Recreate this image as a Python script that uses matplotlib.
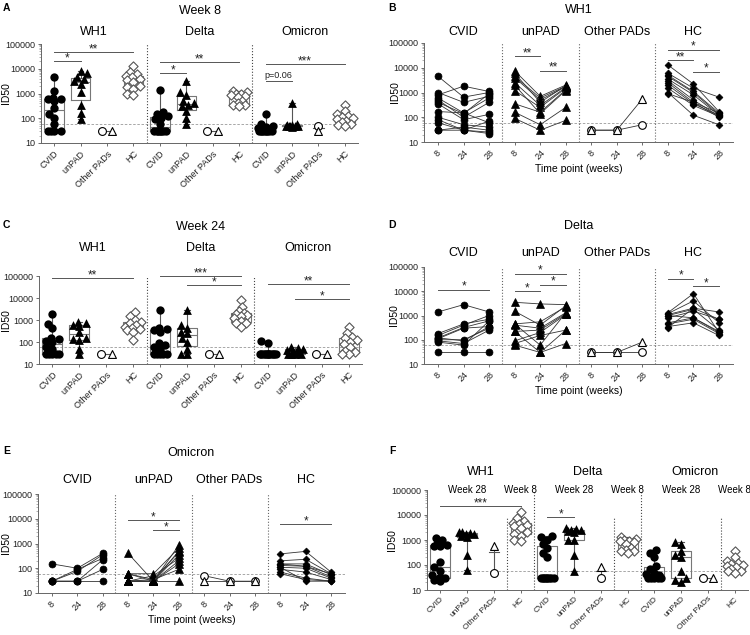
import numpy as np
import matplotlib.pyplot as plt
from matplotlib.ticker import FixedLocator, LogLocator, NullFormatter
from matplotlib.transforms import blended_transform_factory

plt.rcParams['font.family'] = ['Liberation Sans', 'DejaVu Sans']

W, H = 750, 635

groups = ['CVID', 'unPAD', 'Other PADs', 'HC']
variants = ['WH1', 'Delta', 'Omicron']
weeks = ['8', '24', '28']
yticks = [10, 100, 1000, 10000, 100000]
ytick_labels = ['10', '100', '1000', '10000', '100000']
lod = 60

# ---- week 8 cross-sectional (panel A); Other PADs = [circle, triangle]
w8_wh1_cvid = [4500, 1300, 650, 600, 600, 500, 270, 150, 100, 60, 30, 30, 30, 30]
w8_wh1_unpad = [7800, 6500, 4500, 4000, 3200, 2500, 1200, 350, 170, 90]
w8_wh1_other = [30, 30]
w8_wh1_hc = [13000, 7500, 6000, 5000, 4500, 4000, 3500, 3000, 2000, 1800, 1500, 1000, 900]
w8_delta_cvid = [1400, 180, 150, 120, 100, 90, 60, 30, 30, 30, 30, 30, 30, 30]
w8_delta_unpad = [3200, 1200, 900, 500, 400, 350, 300, 200, 100, 60]
w8_delta_other = [30, 30]
w8_delta_hc = [1300, 1100, 1000, 950, 900, 800, 700, 500, 400, 350, 350, 300]
w8_omi_cvid = [150, 60, 50, 45, 40, 35, 30, 30, 30, 30, 30, 30, 30, 30]
w8_omi_unpad = [400, 60, 55, 55, 50, 50, 50, 50, 50, 45]
w8_omi_other = [50, 30]
w8_omi_hc = [350, 200, 150, 120, 110, 100, 90, 80, 70, 60, 55, 50]

# ---- week 24 (panel C)
w24_wh1_cvid = [1800, 650, 450, 150, 130, 110, 100, 60, 50, 30, 30, 30, 30, 30]
w24_wh1_unpad = [800, 700, 600, 550, 300, 150, 130, 120, 50, 30]
w24_wh1_other = [30, 30]
w24_wh1_hc = [2200, 1500, 1000, 800, 700, 600, 500, 450, 400, 350, 300, 120]
w24_delta_cvid = [2800, 450, 400, 350, 300, 90, 70, 60, 50, 30, 30, 30, 30, 30]
w24_delta_unpad = [3000, 600, 450, 300, 250, 150, 100, 50, 30, 30]
w24_delta_other = [30, 30]
w24_delta_hc = [8000, 4000, 2500, 2000, 1800, 1700, 1500, 1200, 900, 700, 700, 500]
w24_omi_cvid = [110, 90, 30, 30, 30, 30, 30, 30, 30, 30, 30, 30, 30, 30]
w24_omi_unpad = [60, 55, 50, 45, 40, 35, 30, 30, 30, 30]
w24_omi_other = [30, 30]
w24_omi_hc = [500, 250, 170, 150, 120, 100, 80, 60, 40, 35, 30, 30]

# ---- week 28 (panel F, HC taken from week 8)
w28_wh1_cvid = [1200, 1000, 700, 650, 600, 550, 130, 80, 60, 40, 30, 30, 30, 25, 22]
w28_wh1_unpad = [2100, 2000, 1900, 1800, 1700, 1500, 1300, 250, 65]
w28_wh1_other = [50, 600]
w28_delta_cvid = [1500, 1300, 1000, 700, 500, 300, 200, 30, 30, 30, 30, 30, 30, 30, 30]
w28_delta_unpad = [3000, 2800, 2500, 2400, 2200, 2000, 1000, 1000, 250, 60]
w28_delta_other = [30, 80]
w28_omi_cvid = [400, 300, 200, 90, 70, 50, 45, 40, 35, 30, 30, 30, 30, 30]
w28_omi_unpad = [800, 700, 350, 250, 200, 60, 30, 25, 20]
w28_omi_other = [30, 30]

# ---- longitudinal (weeks 8, 24, 28), one row per patient
b_cvid = [[4500, 650, 1000], [1000, 400, 700], [800, 1800, 1100], [600, 150, 600],
          [500, 100, 400], [400, 140, 900], [350, 80, 130], [170, 150, 60],
          [100, 50, 40], [80, 30, 70], [60, 30, 25], [30, 30, 22], [30, 40, 30]]
b_unpad = [[7500, 700, 2000], [4500, 600, 1800], [4000, 500, 1700], [2500, 300, 1600],
           [1200, 250, 1500], [350, 160, 1300], [160, 50, 250], [90, 30, 75],
           [6000, 400, 1900], [2000, 140, 1200]]
b_other = [[30, 30, 50], [30, 30, 550]]
b_hc = [[13000, 2200, 170], [6000, 1500, 650], [5000, 1100, 150], [4500, 1000, 130],
        [3500, 800, 120], [3000, 500, 110], [2500, 400, 100], [2000, 350, 120],
        [1500, 300, 110], [1000, 120, 50], [900, 400, 150]]

d_cvid = [[1400, 2800, 1400], [180, 450, 700], [150, 400, 1000], [120, 320, 600],
          [110, 300, 350], [100, 100, 300], [90, 70, 250], [80, 60, 600],
          [30, 30, 30], [120, 90, 350]]
d_unpad = [[3500, 3000, 2800], [1500, 400, 2500], [450, 550, 2300], [400, 300, 1300],
           [220, 250, 1200], [90, 200, 1100], [70, 150, 250], [60, 30, 70],
           [450, 60, 1300], [220, 30, 250]]
d_other = [[30, 30, 30], [30, 30, 80]]
d_hc = [[1300, 8000, 200], [1200, 4000, 500], [1100, 2000, 1400], [1000, 1800, 250],
        [800, 1500, 700], [500, 800, 220], [450, 700, 180], [350, 500, 150],
        [320, 2000, 700], [1000, 800, 200]]

e_cvid = [[150, 100, 400], [30, 90, 250], [30, 75, 350], [30, 30, 220],
          [30, 30, 90], [30, 30, 30]]
e_unpad = [[400, 30, 850], [60, 60, 650], [60, 35, 450], [30, 30, 350], [30, 50, 250],
           [30, 30, 200], [30, 30, 150], [30, 35, 90], [30, 30, 30], [60, 30, 500]]
e_other = [[50, 30, 30], [30, 30, 30]]
e_hc = [[380, 480, 70], [200, 230, 60], [150, 150, 55], [130, 120, 45], [110, 100, 40],
        [90, 70, 35], [70, 40, 30], [60, 35, 30], [110, 30, 30], [150, 120, 60]]

# ---- significance bars: (from, to, height, label)
a_sig = [(0, 1, 20000, '*'), (0, 3, 46000, '**'), (4, 5, 6700, '*'),
         (4, 7, 18000, '**'), (8, 9, 3100, 'p=0.06'), (8, 11, 15500, '***')]
c_sig = [(0, 3, 80000, '**'), (4, 7, 100000, '***'), (5, 7, 38000, '*'),
         (8, 11, 42000, '**'), (9, 11, 9100, '*')]
f_sig = [(0, 3, 22000, '***'), (4, 5, 8300, '*')]
b_sig = [(3, 4, 29000, '**'), (4, 5, 7700, '**'), (9, 11, 54000, '*'),
         (9, 10, 20000, '**'), (10, 11, 7000, '*')]
d_sig = [(0, 2, 11600, '*'), (3, 5, 53000, '*'), (3, 4, 10500, '*'),
         (4, 5, 18800, '*'), (9, 10, 33000, '*'), (10, 11, 16000, '*')]
e_sig = [(3, 5, 8800, '*'), (4, 5, 3500, '*'), (9, 11, 5900, '*')]


def fy(y):
    return 1 - y / H


def add_axes(fig, l, t, r, b, ylab_x):
    ax = fig.add_axes([l / W, 1 - b / H, (r - l) / W, (b - t) / H])
    setup_log(ax)
    ax.yaxis.set_label_coords(-(l - ylab_x) / (r - l), 0.5)
    return ax


def setup_log(ax):
    ax.set_yscale('log')
    ax.set_ylim(10, 100000)
    ax.yaxis.set_major_locator(FixedLocator(yticks))
    ax.set_yticklabels(ytick_labels)
    ax.yaxis.set_minor_locator(LogLocator(subs=np.arange(2, 10)))
    ax.yaxis.set_minor_formatter(NullFormatter())
    ax.tick_params(axis='y', which='major', labelsize=6.5, length=2.5, width=0.6,
                   colors='#555', labelcolor='#222', pad=1.5)
    ax.tick_params(axis='y', which='minor', length=1.2, width=0.4, colors='#777')
    ax.tick_params(axis='x', length=2.5, width=0.6, colors='#555',
                   labelcolor='#222', labelsize=6.5, pad=2)
    for s in ['top', 'right']:
        ax.spines[s].set_visible(False)
    for s in ['left', 'bottom']:
        ax.spines[s].set_color('#666')
        ax.spines[s].set_linewidth(0.7)
    ax.axhline(lod, color='#999', ls=(0, (3, 2)), lw=0.6, zorder=1)
    ax.set_ylabel('ID50', fontsize=7.5)


def add_sig(ax, sigs, color='#555'):
    for x1, x2, y, txt in sigs:
        ax.plot([x1, x2], [y, y], color=color, lw=0.7, clip_on=False, zorder=4)
        if txt.startswith('p'):
            ax.text((x1 + x2) / 2, y * 1.12, txt, ha='center', va='bottom',
                    fontsize=6.5, color='#222')
        else:
            ax.text((x1 + x2) / 2, y * 1.3, txt, ha='center', va='center',
                    fontsize=8.5, color='#222')


def swarm(vals, min_d=0.22, step=0.06, max_off=0.3):
    ly = np.log10(vals)
    offs = np.zeros(len(vals))
    cands = sorted(np.arange(-max_off, max_off + 1e-9, step), key=abs)
    placed = []
    for i in np.argsort(ly):
        best = None
        for c in cands:
            if all(np.hypot(c - offs[j], ly[i] - ly[j]) >= min_d for j in placed):
                best = c
                break
        if best is None:
            best = max(cands, key=lambda c: min(np.hypot(c - offs[j], ly[i] - ly[j])
                                                for j in placed))
        offs[i] = best
        placed.append(i)
    return offs


def draw_group(ax, x, vals, gi):
    vals = np.asarray(vals, float)
    if gi == 2:
        lo, hi = vals.min(), vals.max()
        med = np.median(vals)
        if hi > lo:
            ax.plot([x, x], [lo, hi], color='#555', lw=0.8, zorder=2)
            offs = [0, 0]
        else:
            offs = [-0.2, 0.2]
        ax.plot([x - 0.2, x + 0.2], [med, med], color='#555', lw=0.8, zorder=2)
        ax.scatter(x + offs[0], vals[0], marker='o', s=32, facecolor='white',
                   edgecolor='black', lw=0.8, zorder=3)
        ax.scatter(x + offs[1], vals[1], marker='^', s=32, facecolor='white',
                   edgecolor='black', lw=0.8, zorder=3)
        return
    ax.boxplot(vals, positions=[x], widths=0.74, whis=(0, 100), showfliers=False,
               manage_ticks=False, capwidths=0.2,
               boxprops=dict(color='#777', lw=0.8),
               whiskerprops=dict(color='#555', lw=0.8),
               capprops=dict(color='#555', lw=0.8),
               medianprops=dict(color='#777', lw=0.8))
    offs = swarm(vals)
    if gi == 0:
        ax.scatter(x + offs, vals, marker='o', s=36, c='black', zorder=3, lw=0)
    elif gi == 1:
        ax.scatter(x + offs, vals, marker='^', s=40, c='black', zorder=3, lw=0)
    else:
        ax.scatter(x + offs, vals, marker='D', s=22, facecolor='white',
                   edgecolor='#555', lw=0.8, zorder=3)


def box_panel(fig, ax, data, sigs, title, y_title, y_head):
    for vi in range(3):
        for gi in range(4):
            draw_group(ax, vi * 4 + gi, data[vi][gi], gi)
    ax.set_xlim(-0.5, 11.5)
    ax.set_xticks(range(12))
    ax.set_xticklabels(groups * 3, rotation=45, ha='right', rotation_mode='anchor')
    for xd in [3.5, 7.5]:
        ax.axvline(xd, color='#444', ls=':', lw=0.8, zorder=1)
    add_sig(ax, sigs)
    tr = blended_transform_factory(ax.transData, fig.transFigure)
    ax.text(5.5, fy(y_title), title, transform=tr, ha='center', va='center', fontsize=9)
    for vi, v in enumerate(variants):
        ax.text(vi * 4 + 1.5, fy(y_head), v, transform=tr, ha='center',
                va='center', fontsize=9)


def line_panel(fig, ax, series, sigs, title, y_title, y_head):
    styles = [dict(marker='o', ms=5, mfc='black', mec='black'),
              dict(marker='^', ms=5.5, mfc='black', mec='black'),
              None,
              dict(marker='D', ms=3.5, mfc='black', mec='black')]
    for gi, rows in enumerate(series):
        xs = [gi * 3, gi * 3 + 1, gi * 3 + 2]
        for ri, row in enumerate(rows):
            if gi == 2:
                st = dict(marker='o' if ri == 0 else '^', ms=5.5, mfc='white',
                          mec='black', mew=0.8)
            else:
                st = dict(styles[gi], mew=0.5)
            ax.plot(xs, row, color='#333', lw=0.6, zorder=3, **st)
    ax.set_xlim(-0.55, 11.55)
    ax.set_xticks(range(12))
    ax.set_xticklabels(weeks * 4, rotation=45, ha='center')
    for xd in [2.5, 5.5, 8.5]:
        ax.axvline(xd, color='#666', ls=':', lw=0.8, zorder=1)
    ax.set_xlabel('Time point (weeks)', fontsize=7.5, labelpad=2)
    add_sig(ax, sigs)
    tr = blended_transform_factory(ax.transData, fig.transFigure)
    ax.text(5.5, fy(y_title), title, transform=tr, ha='center', va='center', fontsize=9)
    for gi, g in enumerate(groups):
        ax.text(gi * 3 + 1, fy(y_head), g, transform=tr, ha='center',
                va='center', fontsize=9)


fig = plt.figure(figsize=(7.5, 6.35), dpi=100)

# A
axA = add_axes(fig, 41, 44, 358, 143, 11)
dataA = [[w8_wh1_cvid, w8_wh1_unpad, w8_wh1_other, w8_wh1_hc],
         [w8_delta_cvid, w8_delta_unpad, w8_delta_other, w8_delta_hc],
         [w8_omi_cvid, w8_omi_unpad, w8_omi_other, w8_omi_hc]]
box_panel(fig, axA, dataA, a_sig, 'Week 8', 11, 32)

# C
axC = add_axes(fig, 39, 276, 362, 364, 11)
dataC = [[w24_wh1_cvid, w24_wh1_unpad, w24_wh1_other, w24_wh1_hc],
         [w24_delta_cvid, w24_delta_unpad, w24_delta_other, w24_delta_hc],
         [w24_omi_cvid, w24_omi_unpad, w24_omi_other, w24_omi_hc]]
box_panel(fig, axC, dataC, c_sig, 'Week 24', 227, 248)

# F
axF = add_axes(fig, 427, 490, 748, 590, 397)
dataF = [[w28_wh1_cvid, w28_wh1_unpad, w28_wh1_other, w8_wh1_hc],
         [w28_delta_cvid, w28_delta_unpad, w28_delta_other, w8_delta_hc],
         [w28_omi_cvid, w28_omi_unpad, w28_omi_other, w8_omi_hc]]
for vi in range(3):
    for gi in range(4):
        draw_group(axF, vi * 4 + gi, dataF[vi][gi], gi)
axF.set_xlim(-0.5, 11.5)
axF.set_xticks(range(12))
axF.set_xticklabels(groups * 3, rotation=45, ha='right', rotation_mode='anchor')
axF.tick_params(axis='x', labelsize=6, pad=1.5)
for xd in [3.5, 7.5]:
    axF.axvline(xd, color='#444', ls=':', lw=0.8, zorder=1)
for xd in [2.5, 6.5, 10.5]:
    axF.axvline(xd, ymax=0.73, color='#444', ls=':', lw=0.8, zorder=1)
add_sig(axF, f_sig)
trF = blended_transform_factory(axF.transData, fig.transFigure)
for vi, v in enumerate(variants):
    axF.text(vi * 4 + 1.5, fy(472), v, transform=trF, ha='center', va='center', fontsize=9)
    axF.text(vi * 4 + 1, fy(490), 'Week 28', transform=trF, ha='center', va='center',
             fontsize=7)
    axF.text(vi * 4 + 3, fy(490), 'Week 8', transform=trF, ha='center', va='center',
             fontsize=7)

# B, D, E
axB = add_axes(fig, 424, 43, 733, 142, 400)
line_panel(fig, axB, [b_cvid, b_unpad, b_other, b_hc], b_sig, 'WH1', 10, 32)
axD = add_axes(fig, 424, 267, 733, 364, 399)
line_panel(fig, axD, [d_cvid, d_unpad, d_other, d_hc], d_sig, 'Delta', 226, 253)
axE = add_axes(fig, 38, 494, 345, 593, 11)
line_panel(fig, axE, [e_cvid, e_unpad, e_other, e_hc], e_sig, 'Omicron', 453, 480)

for letter, x, y in [('A', 3, 3), ('B', 388, 3), ('C', 3, 220), ('D', 388, 220),
                     ('E', 3, 446), ('F', 389, 446)]:
    fig.text(x / W, fy(y), letter, fontsize=7.5, fontweight='bold', va='top')

fig.savefig('out.png', dpi=100)
